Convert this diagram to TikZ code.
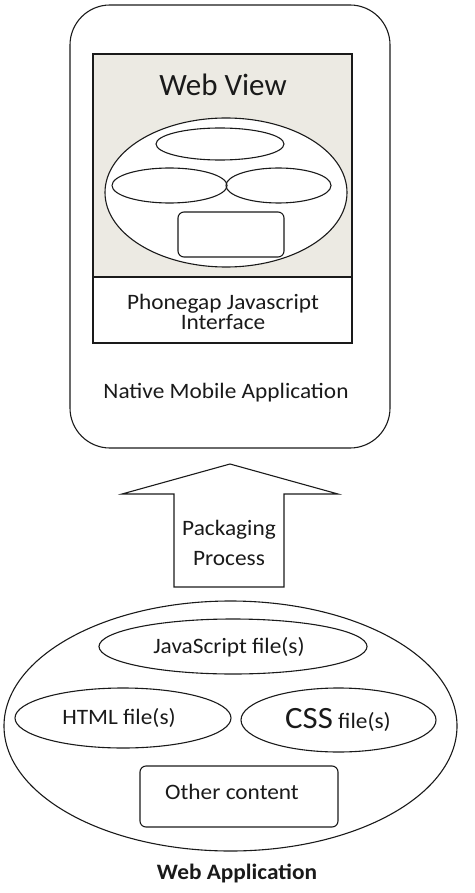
\documentclass[tikz,border=0pt]{standalone}
\usepackage{fontspec}
\setmainfont{Carlito}
\usetikzlibrary{shapes.geometric}
\definecolor{webgray}{HTML}{ECEAE3}
\definecolor{ink}{HTML}{1A1A1A}
\newcommand\wst[1]{\scalebox{1.06}[1]{#1}}
\tikzset{
  line/.style={draw=ink, line width=1.1pt},
  oval/.style={line, ellipse, inner sep=0pt},
  rbox/.style={line, rounded corners=6pt, inner sep=0pt},
  lbl/.style={font=\fontsize{22}{20}\selectfont, text=ink, align=center, inner sep=0pt},
}
\begin{document}
\begin{tikzpicture}[x=1pt,y=-1pt]
\useasboundingbox (0,0) rectangle (474,893);
% Native mobile application frame
\node[line, rounded corners=40pt, minimum width=320pt, minimum height=443pt, inner sep=0pt] (phone) at (230,226.5) {};
% Web view area
\node[line, fill=webgray, minimum width=259pt, minimum height=223pt, inner sep=0pt] (webview) at (222.5,165.5) {};
\node[line, fill=white, minimum width=259pt, minimum height=66pt, inner sep=0pt] (iface) at (222.5,310) {};
\node[lbl, font=\fontsize{31}{33}\selectfont] (wvtitle) at (223,85) {Web View};
\node[oval, fill=white, minimum width=242pt, minimum height=149pt] (wvbig) at (226,192.5) {};
\node[oval, minimum width=128pt, minimum height=32pt] (wvtop) at (220,144) {};
\node[oval, minimum width=115pt, minimum height=35pt] (wvleft) at (169.5,185.5) {};
\node[oval, minimum width=105pt, minimum height=35pt] (wvright) at (278.5,185.5) {};
\node[rbox, minimum width=106pt, minimum height=45pt] (wvbox) at (231,234.5) {};
\node[lbl] (ifacetxt) at (223,312) {\wst{Phonegap Javascript}\\\wst{Interface}};
\node[lbl] (nativetxt) at (226,393) {\wst{Native Mobile Application}};
% Packaging arrow
\coordinate (tip) at (230,464);
\draw[line, line join=miter] (tip) -- (338,494) -- (284,494) -- (284,587) -- (174,587) -- (174,494) -- (122,494) -- cycle;
\node[lbl, font=\fontsize{22}{30}\selectfont] (pack) at (229,543) {\wst{Packaging}\\\wst{Process}};
% Web application
\node[oval, minimum width=453pt, minimum height=250pt] (webapp) at (230.5,726) {};
\node[oval, minimum width=268pt, minimum height=55pt] (js) at (233,646.5) {};
\node[lbl] (jstxt) at (229,647) {\wst{JavaScript file(s)}};
\node[oval, minimum width=216pt, minimum height=60pt] (html) at (123,718) {};
\node[lbl] (htmltxt) at (119,718) {\wst{HTML file(s)}};
\node[oval, minimum width=195pt, minimum height=64pt] (css) at (338.5,720) {};
\node[lbl] (csstxt) at (338,720) {\wst{{\fontsize{31}{33}\selectfont CSS} file(s)}};
\node[rbox, minimum width=198pt, minimum height=61pt] (other) at (239,796.5) {};
\node[lbl] (othertxt) at (232,792) {\wst{Other content}};
\node[lbl, font=\bfseries\fontsize{22}{20}\selectfont] (webapptxt) at (237,873) {\wst{Web Application}};
\end{tikzpicture}
\end{document}
